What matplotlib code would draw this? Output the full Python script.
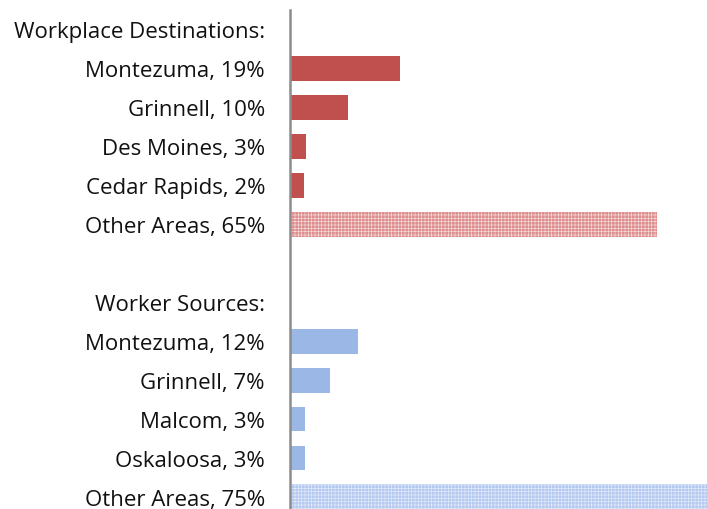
import matplotlib
matplotlib.use("Agg")
import matplotlib.pyplot as plt

# Data
dest_labels = ["Montezuma, 19%", "Grinnell, 10%", "Des Moines, 3%", "Cedar Rapids, 2%", "Other Areas, 65%"]
dest_values = [19.0, 10.0, 2.8, 2.4, 63.4]
src_labels = ["Montezuma, 12%", "Grinnell, 7%", "Malcom, 3%", "Oskaloosa, 3%", "Other Areas, 75%"]
src_values = [11.8, 6.9, 2.6, 2.6, 75.0]
header_dest = "Workplace Destinations:"
header_src = "Worker Sources:"

red = "#C0504D"
red_light = "#DD8E8C"
blue = "#9BB7E6"
blue_light = "#B3C9F0"

plt.rcParams['hatch.linewidth'] = 0.45

fig = plt.figure(figsize=(7.07, 5.10), dpi=100)
W, H = 707, 510
ax = fig.add_axes([290 / W, 0, (707 - 290) / W, (510 - 11) / H])

rows_dest = list(range(1, 6))
rows_src = list(range(8, 13))

for i, (r, v) in enumerate(zip(rows_dest, dest_values)):
    if i == 4:
        ax.barh(r, v, height=0.64, color=red_light, edgecolor="#F6DCDB", hatch="+++++", linewidth=0)
    else:
        ax.barh(r, v, height=0.64, color=red, linewidth=0)
for i, (r, v) in enumerate(zip(rows_src, src_values)):
    if i == 4:
        ax.barh(r, v, height=0.64, color=blue_light, edgecolor="#E4ECFA", hatch="+++++", linewidth=0)
    else:
        ax.barh(r, v, height=0.64, color=blue, linewidth=0)

ticks = [0] + rows_dest + [7] + rows_src
labels = [header_dest] + dest_labels + [header_src] + src_labels
ax.set_yticks(ticks)
ax.set_yticklabels(labels, fontsize=16, fontfamily="Open Sans", color="#111111")
ax.tick_params(axis="y", length=0, pad=18)
ax.set_xticks([])
ax.set_xlim(0, 72)
ax.set_ylim((510 - 32) / 38.83, -0.5)
for s in ["top", "right", "bottom"]:
    ax.spines[s].set_visible(False)
ax.spines["left"].set_color("#8C8C8C")
ax.spines["left"].set_linewidth(1.8)

fig.savefig("out.png", dpi=100)
